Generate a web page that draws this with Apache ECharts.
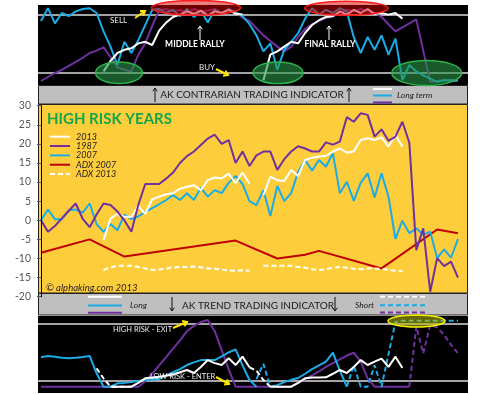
<!DOCTYPE html>
<html><head><meta charset="utf-8">
<script src="https://cdn.jsdelivr.net/npm/echarts@6/dist/echarts.min.js"></script>
<style>html,body{margin:0;padding:0;background:#fff}#c{width:480px;height:394px}</style>
</head><body><div id="c"></div>
<script>
// ---------- DATA (week index 0..60) ----------
const N = null;
// Top panel: AK contrarian trading indicator (0..100)
const topBlue   = [80,96,77,90,86,92,95,96,90,67,48,25,54,40,56,75,94,95,90,94,86,95,85,93,78,94,90,95,91,86,76,62,42,52,19,44,54,65,83,96,88,94,90,96,92,60,40,60,44,62,38,58,6,25,17,12,8,4,6,6,6];
const topWhite  = [N,N,N,N,N,N,N,N,N,17,30,40,44,46,52,54,50,68,78,85,88,92,89,93,87,92,90,94,89,88,N,N,6,38,42,48,54,52,65,75,81,85,86,92,88,94,90,95,89,90,88,90,83,N,N,N,N,N,N,N,N];
const topPurple = [5,10,15,19,24,29,34,40,43,47,35,22,19,17,38,52,74,94,95,92,94,90,95,92,93,95,90,94,91,84,80,71,62,55,48,42,48,60,70,76,80,84,86,90,94,92,95,92,90,85,76,67,72,77,82,43,4,5,6,5,5];
const SELL = 87.5, BUY = 15;
// Main panel: High risk years (%)
const yr2013 = [N,N,N,N,N,N,N,N,N,-5.2,0.4,1.7,0.9,0.9,3.8,1.7,5.5,6.2,6.8,7.1,8.3,8.8,9.2,7.9,10.5,11.2,11,12.2,9.7,12.5,9.5,N,6.6,11.4,10.5,10.3,13.2,11.6,15.8,16.4,16.7,16.9,18,18.8,17.7,18,21,21.5,21,21.7,19.3,22.3,19.3,N,N,N,N,N,N,N,N];
const yr1987 = [0,-3,-1.5,0.5,2.5,4.4,0.4,-1.8,1.5,4.4,4,2.3,0,-3,4,9.5,9.5,9.5,10.9,12.5,15,16.8,18,19.7,21.4,22.4,20,21,15,18,14.2,17,18,18,13.2,16,18,19.4,18.8,18,18,20.4,19.8,20.6,27,25.8,28,27.6,21.9,23.8,20.8,21.9,25.8,20.3,-7.8,-2.1,-18.7,-9.9,-12,-10.8,-15];
const yr2007 = [0,2.8,0.3,0.3,2.6,2.8,2,4.4,-1,-3,-1,-2.6,1.5,0.3,1,2.2,3.2,4.2,5.3,6.6,5.3,7.1,5.3,8.5,6.2,7.9,7.1,9.8,11.6,9.5,5,4,7.9,1.1,9,5,7.1,12.7,15.8,13,15.8,14,17.6,7.1,10.1,5.1,9.8,12.3,6,12.3,6.2,-4.9,-0.1,-3.4,-2.1,-3.8,-3,-9.9,-7.6,-9.8,-4.9];
const adx2007 = [-8.5,N,N,N,N,N,N,-5,N,N,N,N,-9.5,N,N,N,N,N,N,N,N,N,N,N,N,N,N,N,-5.3,N,N,N,N,N,-10,N,N,N,-9,N,-8,N,N,N,N,N,N,N,N,-12.6,N,N,N,N,N,N,N,-2.4,N,N,-3.4];
const adx2013 = [N,N,N,N,N,N,N,N,N,-13,-12.3,-11.9,-11.9,-11.9,-12.2,-12.6,-13,-12.9,-12.6,-12.4,-12.2,-12.2,-12.1,-12.3,-12.6,-12.7,-12.9,-13.1,-13.2,-13.1,-13.2,N,-11.9,-11.9,-11.9,-11.9,-11.9,-12.2,-12.4,-12.8,-13,-12.8,-12.4,-12.2,-12.4,-12.7,-12.8,-12.6,-12.6,-12.7,-13,-13.2,-13.3,N,N,N,N,N,N,N,N];
const yTicks = {min:-20, max:30, step:5};
// Bottom panel: AK trend trading indicator (0..100)
const longBlue   = [45.6,47.4,46.5,45,44.3,45,46,47.4,24.6,7,7,11.4,12,13,14.5,15.8,16.5,17,22,26,30,35.5,39,42,42,42,47,52,56,35,15.8,7,N,7,9,13,16,18.4,24,30,35,40,51.7,28,7,N,N,N,N,N,N,N,N,N,N,N,N,N,N,N,N];
const shortBlue  = [N,N,N,N,N,N,N,N,N,N,N,N,N,N,N,N,N,N,N,N,N,N,N,N,N,N,N,N,N,N,N,17,37,7,N,N,N,N,N,N,N,N,N,N,7,35,7,7,35,7,50,92,93.8,93.8,93.8,93.8,93.8,93.8,93.8,93.8,93.8];
const longPurple = [7,7,7,7,7,7,7,7,7,7,7,7,7,7,7,14,24,35,46,57,68,80,87,92,94.7,80,55,30,7,7,7,7,7,7,7,7,7,12,17,22,27,33,38,43,48,51.7,40,18,7,7,7,7,7,7,N,N,N,N,N,N,N];
const shortPurple= [N,N,N,N,N,N,N,N,N,N,N,N,N,N,N,N,N,N,N,N,N,N,N,N,N,N,N,N,N,N,N,N,N,N,N,N,N,N,N,N,N,N,N,N,N,N,N,N,N,N,N,N,N,7,86,51,88,85,75,62,51];
const longWhite  = [N,N,N,N,N,N,N,N,N,N,7,7,7,7,12,18,19,20,21.5,23,26,29,25,33,42,38,35.5,44.3,35.5,46.5,32.5,N,N,7,7,7,7,12,18,19,19,19.3,24,29,25,33,42,35.5,40,44,33,46.5,31.5,N,N,N,N,N,N,N,N];
const shortWhite = [N,N,N,N,N,N,N,N,31,18,7,7,7,7,N,N,N,N,N,N,N,N,N,N,N,N,N,N,N,N,32.5,28,15.8,7,N,N,N,N,N,N,N,N,N,N,N,N,N,N,N,N,N,N,N,N,N,N,N,N,N,N,N];
const EXIT = 89.5, ENTER = 14.5;

// ---------- COLORS ----------
const C = {blue:'#1AACE6', purple:'#7030A0', red:'#C00000', white:'#FFFFFF', yellow:'#FECD3C', gray:'#BFBFBF', green:'#12A64A'};

const pairs = a => a.map((v,i)=>[i, v==null?'-':v]);
function line(name, arr, g, color, opts){
  return Object.assign({type:'line', name, data:pairs(arr), xAxisIndex:g, yAxisIndex:g, symbol:'none',
    lineStyle:{color, width:2}, itemStyle:{color}, connectNulls:false, silent:true, animation:false, z:5}, opts||{});
}
const dash = {type:[5,3]};

const chart = echarts.init(document.getElementById('c'), null, {renderer:'canvas'});
const FONT = 'Lato, "Open Sans", sans-serif';

function arrow(x1,y1,x2,y2,color,w,h){
  const a = Math.atan2(y2-y1,x2-x1); h = h||4;
  const p1=[x2-h*Math.cos(a-0.6), y2-h*Math.sin(a-0.6)], p2=[x2-h*Math.cos(a+0.6), y2-h*Math.sin(a+0.6)];
  return [{type:'line',shape:{x1,y1,x2,y2},style:{stroke:color,lineWidth:w},z:120},
          {type:'polyline',shape:{points:[p1,[x2,y2],p2]},style:{stroke:color,lineWidth:w,fill:null},z:120}];
}
function txt(x,y,t,o){
  return {type:'text', x, y, z:121, style:Object.assign({text:t, fill:'#fff', font:'8px '+FONT, textVerticalAlign:'middle', textAlign:'left'}, o||{})};
}
function seg(x1,y,x2,color,w,d){
  return {type:'line',shape:{x1,y1:y,x2,y2:y},style:{stroke:color,lineWidth:w||2,lineDash:d||null},z:121};
}
function ell(cx,cy,rx,ry,fill,stroke){
  return {type:'ellipse',shape:{cx,cy,rx,ry},style:{fill,stroke,lineWidth:1.5},z:110};
}

const graphics = [
  // panels
  {type:'rect',shape:{x:38,y:5,width:430,height:80},style:{fill:'#000'},z:-1},
  {type:'rect',shape:{x:38.5,y:85.5,width:429,height:18.5},style:{fill:C.gray,stroke:'#222',lineWidth:1},z:-1},
  {type:'rect',shape:{x:38.5,y:104.5,width:429,height:188.5},style:{fill:C.yellow,stroke:'#222',lineWidth:1},z:-1},
  {type:'rect',shape:{x:38.5,y:293.5,width:429,height:21.5},style:{fill:C.gray,stroke:'#222',lineWidth:1},z:-1},
  {type:'rect',shape:{x:38,y:316,width:430,height:77},style:{fill:'#000'},z:-1},
  // ellipses
  ell(196,7.8,44.5,7.4,'rgba(215,0,0,0.5)','#FF1A1A'),
  ell(346.5,8.3,41.7,7,'rgba(215,0,0,0.5)','#FF1A1A'),
  ell(119,72.8,23.5,10.8,'rgba(40,150,70,0.6)','#2DB34A'),
  ell(278,72.8,25,10.8,'rgba(40,150,70,0.6)','#2DB34A'),
  ell(426.7,73,35,12.5,'rgba(40,150,70,0.6)','#2DB34A'),
  ell(416.5,321,28.5,6,'rgba(190,190,0,0.55)','#F2F200'),
  // top texts
  txt(110,20.5,'SELL',{font:'8px '+FONT, fill:'#eee'}),
  ...arrow(135,18,145,11,'#FFE400',2,5),
  txt(195,44.5,'MIDDLE RALLY',{font:'bold 8.5px '+FONT, textAlign:'center'}),
  ...arrow(200,40,200,26,'#fff',1,4),
  txt(330,44.5,'FINAL RALLY',{font:'bold 8.5px '+FONT, textAlign:'center'}),
  ...arrow(329,40,329,26,'#fff',1,4),
  txt(199,67,'BUY',{font:'8px '+FONT, fill:'#eee'}),
  ...arrow(216,69,228,75,'#FFE400',2,5),
  // band 1
  ...arrow(155,102,155,88,'#111',1,4),
  txt(252,95,'AK CONTRARIAN TRADING INDICATOR',{font:'10px '+FONT, fill:'#1a1a1a', textAlign:'center'}),
  ...arrow(349,102,349,88,'#111',1,4),
  seg(373,89,392,C.white,2), seg(373,95.5,392,C.blue,2), seg(373,102.5,392,C.purple,2),
  txt(397,95.5,'Long term',{font:'italic 8.5px '+FONT, fill:'#1a1a1a'}),
  // main panel
  txt(47,119,'HIGH RISK YEARS',{font:'bold 15px '+FONT, fill:C.green}),
  seg(50,136.7,70,C.white,2), txt(76,136.7,'2013',{font:'italic 9px '+FONT, fill:'#222'}),
  seg(50,146,70,C.purple,2), txt(76,146,'1987',{font:'italic 9px '+FONT, fill:'#222'}),
  seg(50,155.4,70,C.blue,2), txt(76,155.4,'2007',{font:'italic 9px '+FONT, fill:'#222'}),
  seg(50,164.7,70,C.red,2), txt(76,164.7,'ADX 2007',{font:'italic 9px '+FONT, fill:'#222'}),
  seg(50,174,70,C.white,2,[5,3]), txt(76,174,'ADX 2013',{font:'italic 9px '+FONT, fill:'#222'}),
  txt(46,287.5,'© alphaking.com 2013',{font:'italic 9.5px '+FONT, fill:'#222'}),
  // band 2
  seg(88,296.8,122,C.white,2), seg(88,305.5,122,C.blue,2), seg(88,312.8,122,C.purple,2),
  txt(130,305.5,'Long',{font:'italic 8.5px '+FONT, fill:'#1a1a1a'}),
  ...arrow(172,297,172,311,'#111',1,4),
  txt(182,305.5,'AK TREND TRADING INDICATOR',{font:'10px '+FONT, fill:'#1a1a1a'}),
  ...arrow(335,297,335,311,'#111',1,4),
  txt(355,305.5,'Short',{font:'italic 8.5px '+FONT, fill:'#1a1a1a'}),
  seg(380,296.8,425,C.white,2,[5,3]), seg(380,305.2,425,C.blue,2,[5,3]), seg(380,312.5,425,C.purple,2,[5,3]),
  // bottom texts
  txt(113,330,'HIGH RISK - EXIT',{font:'7.5px '+FONT, fill:'#eee'}),
  ...arrow(173,328,187,322,'#FFE400',2,5),
  txt(150,377,'LOW RISK - ENTER',{font:'7.5px '+FONT, fill:'#eee'}),
  ...arrow(216,377,229,384,'#FFE400',2,5)
];

const xRange = {min:-0.432, max:61.44};
const refLine = (vals) => ({symbol:'none', silent:true, animation:false, label:{show:false},
  lineStyle:{color:'#DDDDDD', width:1.5, type:'solid'}, data: vals.map(v=>({yAxis:v}))});

const option = {
  animation:false,
  backgroundColor:'#fff',
  grid:[
    {left:38, width:430, top:5, height:80},
    {left:38, width:430, top:105.7, height:191},
    {left:38, width:430, top:316, height:76}
  ],
  xAxis:[0,1,2].map(g=>({type:'value', gridIndex:g, min:xRange.min, max:xRange.max, show:false})),
  yAxis:[
    {type:'value', gridIndex:0, min:0, max:100, show:false},
    {type:'value', gridIndex:1, min:yTicks.min, max:yTicks.max, interval:yTicks.step, z:6,
      axisLine:{show:true, lineStyle:{color:'#000', width:1}},
      axisTick:{show:true, length:4, lineStyle:{color:'#555'}},
      axisLabel:{color:'#595959', fontSize:10.5, fontFamily:FONT, margin:7},
      splitLine:{show:false}},
    {type:'value', gridIndex:2, min:0, max:100, show:false}
  ],
  graphic:{elements:graphics},
  series:[
    line('topPurple', topPurple, 0, C.purple, {connectNulls:true, markLine:refLine([SELL,BUY])}),
    line('topBlue', topBlue, 0, C.blue),
    line('topWhite', topWhite, 0, C.white),
    line('ADX 2007', adx2007, 1, C.red, {connectNulls:true}),
    line('ADX 2013', adx2013, 1, C.white, {lineStyle:{color:C.white,width:2,type:[5,3]}}),
    line('2007', yr2007, 1, C.blue),
    line('2013', yr2013, 1, C.white),
    line('1987', yr1987, 1, C.purple),
    line('longPurple', longPurple, 2, C.purple, {markLine:refLine([EXIT,ENTER])}),
    line('shortPurple', shortPurple, 2, C.purple, {lineStyle:{color:C.purple,width:2,type:[5,3]}}),
    line('longBlue', longBlue, 2, C.blue),
    line('shortBlue', shortBlue, 2, C.blue, {lineStyle:{color:C.blue,width:2,type:[5,3]}}),
    line('longWhite', longWhite, 2, C.white),
    line('shortWhite', shortWhite, 2, C.white, {lineStyle:{color:C.white,width:2,type:[5,3]}})
  ]
};
chart.setOption(option);
</script></body></html>
